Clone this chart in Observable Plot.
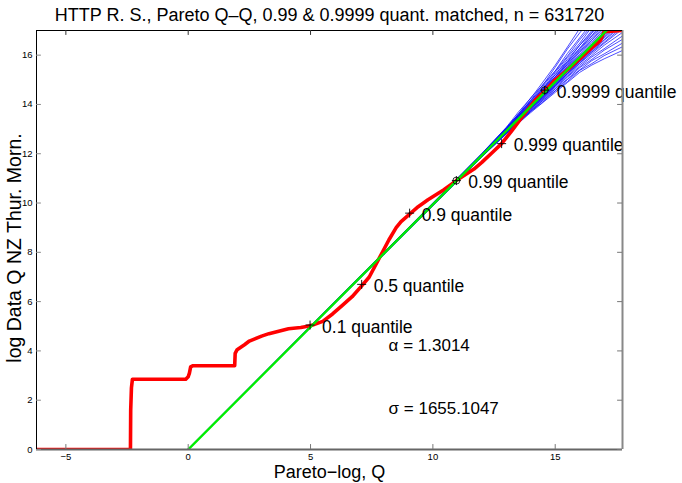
<!DOCTYPE html>
<html>
<head>
<meta charset="utf-8">
<script src="https://cdn.jsdelivr.net/npm/d3@7"></script>
<script src="https://cdn.jsdelivr.net/npm/@observablehq/plot@0.6"></script>
<style>
  html, body { margin: 0; padding: 0; background: #fff; }
  svg { display: block; }
</style>
</head>
<body>
<div id="chart"></div>
<script>
// ---- data ----
const titleText = "HTTP R. S., Pareto Q\u2013Q, 0.99 & 0.9999 quant. matched, n = 631720";
const xLabel = "Pareto\u2212log, Q";
const yLabel = "log Data Q NZ Thur. Morn.";
const xTicks = [-5, 0, 5, 10, 15];
const yTicks = [0, 2, 4, 6, 8, 10, 12, 14, 16];

// red: empirical Q-Q curve (Pareto-log Q, log data)
const redX = [-6.2, -2.36, -2.35, -2.32, -2.28, -0.1, 0.0, 0.05, 0.1, 0.2, 1.9, 1.92, 2.0, 2.15, 2.3, 2.5, 2.7, 3.0, 3.3, 3.7, 4.1, 4.6, 5.0, 5.5, 5.9, 6.3, 6.7, 7.1, 7.4, 7.77, 8.2, 8.5, 8.7, 9.05, 9.4, 9.8, 10.45, 10.96, 11.68, 12.0, 12.43, 12.8, 13.2, 13.88, 14.2, 14.57, 15.0, 15.5, 16.0, 16.5, 16.85, 17.0, 17.75];
const redY = [0.0, 0.0, 1.6, 2.5, 2.85, 2.85, 2.95, 3.1, 3.35, 3.4, 3.4, 3.9, 4.05, 4.15, 4.25, 4.4, 4.48, 4.6, 4.7, 4.8, 4.9, 4.95, 5.02, 5.2, 5.5, 5.85, 6.2, 6.65, 7.0, 7.69, 8.5, 9.0, 9.25, 9.55, 9.85, 10.13, 10.54, 10.91, 11.38, 11.65, 12.05, 12.4, 12.9, 13.8, 14.2, 14.54, 15.0, 15.4, 15.85, 16.3, 16.6, 16.95, 17.0];

// green: fitted Pareto line
const greenX = [0, 17.1];
const greenY = [0, 17.0];

// blue: simulated Pareto Q-Q curves, sampled at common Q values
const blueX = [0, 8, 12, 13, 13.5, 14, 14.5, 15, 15.5, 16, 16.5, 17, 17.75];
const blueY = [
  [0.03, 8.0, 12.01, 13.07, 13.7, 14.25, 14.91, 15.59, 16.33, 17.08, 17.6, 18.35, 19.24],
  [0.02, 7.99, 11.99, 13.04, 13.62, 14.27, 14.79, 15.51, 16.25, 16.9, 17.5, 18.15, 19.09],
  [0.03, 7.99, 12.0, 13.06, 13.6, 14.18, 14.81, 15.36, 16.07, 16.7, 17.32, 18.02, 18.94],
  [0.02, 7.98, 11.98, 13.02, 13.61, 14.14, 14.74, 15.35, 15.96, 16.62, 17.2, 17.9, 18.74],
  [0.02, 7.98, 11.99, 13.01, 13.55, 14.15, 14.66, 15.29, 15.91, 16.48, 17.15, 17.72, 18.62],
  [0.01, 7.98, 11.97, 13.0, 13.56, 14.08, 14.65, 15.21, 15.83, 16.4, 17.0, 17.62, 18.44],
  [0.02, 7.97, 11.98, 12.98, 13.54, 14.1, 14.61, 15.21, 15.75, 16.4, 16.92, 17.56, 18.34],
  [0.01, 7.97, 11.96, 12.99, 13.51, 14.06, 14.61, 15.13, 15.73, 16.28, 16.9, 17.45, 18.3],
  [0.02, 7.98, 11.97, 12.97, 13.52, 14.02, 14.58, 15.11, 15.69, 16.26, 16.8, 17.4, 18.19],
  [0.02, 7.97, 11.96, 12.98, 13.49, 14.03, 14.53, 15.11, 15.63, 16.2, 16.78, 17.3, 18.12],
  [0.01, 7.97, 11.95, 12.96, 13.49, 14.0, 14.53, 15.05, 15.63, 16.14, 16.7, 17.26, 18.02],
  [0.02, 7.97, 11.96, 12.95, 13.47, 14.0, 14.49, 15.04, 15.56, 16.12, 16.62, 17.2, 17.94],
  [0.01, 7.96, 11.95, 12.95, 13.46, 13.97, 14.49, 14.99, 15.54, 16.04, 16.6, 17.1, 17.89],
  [0.01, 7.97, 11.94, 12.94, 13.45, 13.97, 14.45, 14.98, 15.49, 16.0, 16.52, 17.04, 17.79],
  [0.02, 7.96, 11.94, 12.94, 13.43, 13.95, 14.44, 14.94, 15.46, 15.94, 16.47, 16.96, 17.72],
  [0.01, 7.96, 11.93, 12.92, 13.43, 13.92, 14.42, 14.9, 15.41, 15.92, 16.38, 16.9, 17.64],
  [0.02, 7.95, 11.93, 12.91, 13.42, 13.9, 14.4, 14.88, 15.39, 15.86, 16.37, 16.84, 17.57],
  [0.0, 7.95, 11.92, 12.91, 13.4, 13.9, 14.37, 14.87, 15.36, 15.84, 16.32, 16.8, 17.49],
  [0.01, 7.95, 11.92, 12.9, 13.4, 13.88, 14.36, 14.85, 15.33, 15.81, 16.28, 16.74, 17.42],
  [0.0, 7.94, 11.92, 12.9, 13.38, 13.87, 14.35, 14.82, 15.31, 15.77, 16.24, 16.7, 17.35],
  [0.01, 7.94, 11.92, 12.89, 13.37, 13.86, 14.32, 14.81, 15.27, 15.75, 16.2, 16.63, 17.28],
  [0.0, 7.94, 11.91, 12.88, 13.37, 13.84, 14.32, 14.78, 15.25, 15.73, 16.15, 16.6, 17.2],
  [0.01, 7.94, 11.91, 12.88, 13.35, 13.84, 14.29, 14.76, 15.24, 15.68, 16.13, 16.52, 17.14],
  [0.0, 7.93, 11.91, 12.87, 13.35, 13.82, 14.27, 14.75, 15.19, 15.67, 16.07, 16.48, 17.06],
  [0.01, 7.93, 11.9, 12.86, 13.32, 13.8, 14.24, 14.71, 15.14, 15.6, 15.99, 16.4, 16.92],
  [0.0, 7.93, 11.89, 12.85, 13.32, 13.76, 14.22, 14.65, 15.11, 15.53, 15.93, 16.26, 16.78],
  [0.01, 7.92, 11.89, 12.84, 13.29, 13.75, 14.17, 14.63, 15.03, 15.49, 15.83, 16.2, 16.64],
  [0.0, 7.92, 11.88, 12.82, 13.28, 13.71, 14.16, 14.56, 15.01, 15.4, 15.78, 16.05, 16.49],
  [0.01, 7.92, 11.88, 12.81, 13.25, 13.72, 14.1, 14.55, 14.93, 15.38, 15.66, 15.98, 16.34],
  [0.0, 7.91, 11.87, 12.8, 13.24, 13.67, 14.08, 14.49, 14.89, 15.3, 15.6, 15.85, 16.19]
];

// quantile markers on the red curve
const qLabels = ["0.1 quantile", "0.5 quantile", "0.9 quantile", "0.99 quantile", "0.999 quantile", "0.9999 quantile"];
const qX = [4.98, 7.09, 9.05, 10.96, 12.81, 14.57];
const qY = [5.05, 6.7, 9.59, 10.91, 12.41, 14.58];
const qMatched = [false, false, false, true, false, true];

// parameter annotations
const annText = ["\u03b1 = 1.3014", "\u03c3 = 1655.1047"];
const annX = [8.19, 8.19];
const annY = [4.23, 1.67];

// ---- build tables ----
const red = redX.map((x, i) => ({x, y: redY[i]}));
const green = greenX.map((x, i) => ({x, y: greenY[i]}));
const blue = blueY.flatMap((ys, k) => ys.map((y, i) => ({curve: k, x: blueX[i], y})));
const quant = qLabels.map((label, i) => ({label, x: qX[i], y: qY[i], matched: qMatched[i]}));
const ann = annText.map((t, i) => ({t, x: annX[i], y: annY[i]}));

const xDom = [-6.2, 17.75];
const yDom = [0, 17];
const font = "Liberation Sans, Arial, Helvetica, sans-serif";

const chart = Plot.plot({
  width: 682,
  height: 483,
  marginLeft: 36,
  marginRight: 60,
  marginTop: 30,
  marginBottom: 34,
  x: {domain: xDom},
  y: {domain: yDom},
  style: {fontFamily: font, background: "#fff", color: "#000"},
  marks: [
    // simulated curves
    Plot.line(blue, {x: "x", y: "y", z: "curve", stroke: "#0000ff", strokeWidth: 0.7, clip: true}),
    // empirical curve
    Plot.line(red, {x: "x", y: "y", stroke: "#ff0000", strokeWidth: 3.6, strokeLinejoin: "round", clip: true}),
    // fitted line
    Plot.line(green, {x: "x", y: "y", stroke: "#00ee00", strokeWidth: 2.4, clip: true}),
    // quantile markers
    Plot.dot(quant.filter(d => d.matched), {x: "x", y: "y", r: 3.5, stroke: "#000", strokeWidth: 0.8, fill: "none"}),
    Plot.dot(quant, {x: "x", y: "y", symbol: "plus", r: 3, stroke: "#000", strokeWidth: 0.9}),
    Plot.text(quant, {x: "x", y: "y", text: "label", dx: 12, dy: 2, textAnchor: "start", fontSize: 17.5, fill: "#000"}),
    // parameter annotations
    Plot.text(ann, {x: "x", y: "y", text: "t", textAnchor: "start", fontSize: 17, fill: "#000"}),
    // box
    Plot.ruleY([yDom[0]], {stroke: "#666", strokeWidth: 2}),
    Plot.ruleX([xDom[1]], {stroke: "#888", strokeWidth: 2}),
    Plot.ruleX([xDom[0]], {stroke: "#000", strokeWidth: 1}),
    Plot.ruleY([yDom[1]], {stroke: "#000", strokeWidth: 1}),
    // inward tick marks
    Plot.ruleX(xTicks, {y1: 0, y2: 0.2, stroke: "#777"}),
    Plot.ruleX(xTicks, {y1: 16.8, y2: 17, stroke: "#333"}),
    Plot.ruleY(yTicks, {x1: xDom[0], x2: xDom[0] + 0.2, stroke: "#888"}),
    Plot.ruleY(yTicks, {x1: xDom[1] - 0.2, x2: xDom[1], stroke: "#777"}),
    // tick labels
    Plot.axisX(xTicks, {tickSize: 0, tickPadding: 4, label: null, fontSize: 9.5}),
    Plot.axisY(yTicks, {tickSize: 0, tickPadding: 4, label: null, fontSize: 9.5}),
    // titles
    Plot.text([titleText], {frameAnchor: "top", dy: -10, lineAnchor: "bottom", fontSize: 18, fill: "#000"}),
    Plot.text([xLabel], {frameAnchor: "bottom", dy: 28, lineAnchor: "bottom", fontSize: 18, fill: "#000"}),
    Plot.text([yLabel], {frameAnchor: "left", dx: -16, dy: 8, rotate: -90, textAnchor: "middle", lineAnchor: "bottom", fontSize: 19.5, fill: "#000"})
  ]
});
document.getElementById("chart").appendChild(chart);
</script>
</body>
</html>
